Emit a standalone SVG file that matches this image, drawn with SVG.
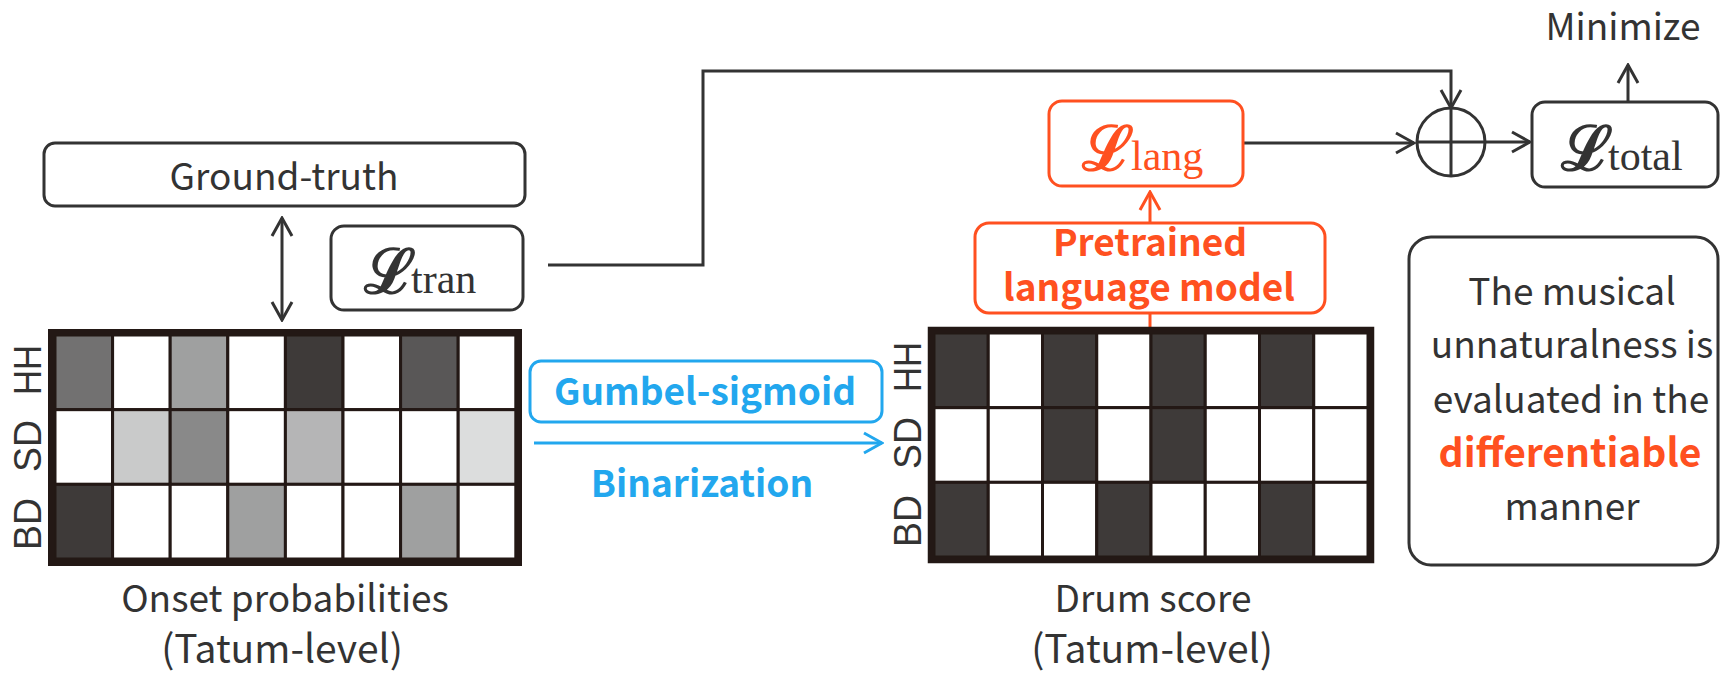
<svg xmlns="http://www.w3.org/2000/svg" width="1721" height="673" viewBox="0 0 1721 673">
  <style>
    .box { fill: #fff; stroke: #333; stroke-width: 3; }
    .obox { fill: #fff; stroke: #ff5020; stroke-width: 3; }
    .bbox { fill: #fff; stroke: #22a7ee; stroke-width: 3; }
    .txt { font-family: "Noto Sans CJK JP", "Noto Sans", sans-serif; font-size: 37px; fill: #333; text-anchor: middle; }
    .cap2 { font-size: 39px; }
    .lbl { font-family: "Liberation Sans", Arial, sans-serif; font-size: 38px; fill: #333; text-anchor: middle; }
    .bold-o { font-family: "Noto Sans CJK JP", "Noto Sans", sans-serif; font-weight: bold; font-size: 37px; fill: #ff5020; text-anchor: middle; }
    .bold-b { font-family: "Noto Sans CJK JP", "Noto Sans", sans-serif; font-weight: bold; font-size: 37px; fill: #22a7ee; text-anchor: middle; }
    .scr { font-family: "DejaVu Serif", serif; font-size: 62px; font-weight: bold; }
    .sub { font-family: "Liberation Serif", serif; font-size: 42px; }
    .cell { stroke: #231815; stroke-width: 3; }
    .frame { fill: none; stroke: #231815; stroke-width: 6.5; }
    .wire { fill: none; stroke: #333; stroke-width: 3; }
  </style>
  <defs>
    <marker id="ah" viewBox="-20 -12 22 24" refX="0" refY="0" markerWidth="22" markerHeight="24" markerUnits="userSpaceOnUse" orient="auto-start-reverse">
      <path d="M-18,-10 L0,0 L-18,10" fill="none" stroke="#333" stroke-width="3"/>
    </marker>
    <marker id="ah-o" viewBox="-20 -12 22 24" refX="0" refY="0" markerWidth="22" markerHeight="24" markerUnits="userSpaceOnUse" orient="auto">
      <path d="M-18,-10 L0,0 L-18,10" fill="none" stroke="#ff5020" stroke-width="3"/>
    </marker>
    <marker id="ah-b" viewBox="-20 -12 22 24" refX="0" refY="0" markerWidth="22" markerHeight="24" markerUnits="userSpaceOnUse" orient="auto">
      <path d="M-18,-10 L0,0 L-18,10" fill="none" stroke="#22a7ee" stroke-width="3"/>
    </marker>
  </defs>

  <rect width="1721" height="673" fill="#fff"/>

  <!-- connectors -->
  <g id="connectors">
    <path class="wire" d="M282,218 V320" marker-start="url(#ah)" marker-end="url(#ah)"/>
    <path class="wire" d="M548,265 H703 V71 H1451 V108" marker-end="url(#ah)"/>
    <path class="wire" d="M1243,143 H1414" marker-end="url(#ah)"/>
    <path class="wire" d="M1485,142 H1530" marker-end="url(#ah)"/>
    <path class="wire" d="M1628,102 V65" marker-end="url(#ah)"/>
    <path d="M1150,223 V192" fill="none" stroke="#ff5020" stroke-width="3" marker-end="url(#ah-o)"/>
    <path d="M1150,313 V328" fill="none" stroke="#ff5020" stroke-width="3"/>
    <path d="M534,443 H882" fill="none" stroke="#22a7ee" stroke-width="3" marker-end="url(#ah-b)"/>
  </g>

  <!-- ground truth -->
  <g id="ground-truth">
    <rect class="box" x="44" y="143" width="481" height="63" rx="11"/>
    <text class="txt" x="284" y="190">Ground-truth</text>
  </g>

  <!-- transcription loss -->
  <g id="loss-tran">
    <rect class="box" x="331" y="226" width="192" height="84" rx="13"/>
    <text fill="#333"><tspan class="scr" x="364" y="293">ℒ</tspan><tspan class="sub" x="411" y="293">tran</tspan></text>
  </g>

  <!-- onset probability matrix -->
  <g id="onset-probabilities">
    <g class="cell">
      <rect x="55" y="335" width="57.6" height="74.67" fill="#727171"/>
      <rect x="112.6" y="335" width="57.6" height="74.67" fill="#fff"/>
      <rect x="170.2" y="335" width="57.6" height="74.67" fill="#9fa0a0"/>
      <rect x="227.8" y="335" width="57.6" height="74.67" fill="#fff"/>
      <rect x="285.4" y="335" width="57.6" height="74.67" fill="#3e3a39"/>
      <rect x="343" y="335" width="57.6" height="74.67" fill="#fff"/>
      <rect x="400.6" y="335" width="57.6" height="74.67" fill="#595757"/>
      <rect x="458.2" y="335" width="57.6" height="74.67" fill="#fff"/>

      <rect x="55" y="409.67" width="57.6" height="74.67" fill="#fff"/>
      <rect x="112.6" y="409.67" width="57.6" height="74.67" fill="#c9caca"/>
      <rect x="170.2" y="409.67" width="57.6" height="74.67" fill="#898989"/>
      <rect x="227.8" y="409.67" width="57.6" height="74.67" fill="#fff"/>
      <rect x="285.4" y="409.67" width="57.6" height="74.67" fill="#b5b5b6"/>
      <rect x="343" y="409.67" width="57.6" height="74.67" fill="#fff"/>
      <rect x="400.6" y="409.67" width="57.6" height="74.67" fill="#fff"/>
      <rect x="458.2" y="409.67" width="57.6" height="74.67" fill="#dcdddd"/>

      <rect x="55" y="484.33" width="57.6" height="74.67" fill="#3e3a39"/>
      <rect x="112.6" y="484.33" width="57.6" height="74.67" fill="#fff"/>
      <rect x="170.2" y="484.33" width="57.6" height="74.67" fill="#fff"/>
      <rect x="227.8" y="484.33" width="57.6" height="74.67" fill="#9fa0a0"/>
      <rect x="285.4" y="484.33" width="57.6" height="74.67" fill="#fff"/>
      <rect x="343" y="484.33" width="57.6" height="74.67" fill="#fff"/>
      <rect x="400.6" y="484.33" width="57.6" height="74.67" fill="#9fa0a0"/>
      <rect x="458.2" y="484.33" width="57.6" height="74.67" fill="#fff"/>
    </g>
    <rect class="frame" x="51.25" y="332.25" width="467.5" height="230.5"/>
    <text class="lbl" transform="translate(41,370) rotate(-90)" textLength="50" lengthAdjust="spacingAndGlyphs">HH</text>
    <text class="lbl" transform="translate(41,446) rotate(-90)" textLength="52" lengthAdjust="spacingAndGlyphs">SD</text>
    <text class="lbl" transform="translate(41,524) rotate(-90)" textLength="52" lengthAdjust="spacingAndGlyphs">BD</text>
    <text class="txt" x="285" y="612">Onset probabilities</text>
    <text class="txt cap2" x="282" y="663">(Tatum-level)</text>
  </g>

  <!-- binarization step -->
  <g id="gumbel-sigmoid">
    <rect class="bbox" x="530" y="361" width="352" height="61" rx="11"/>
    <text class="bold-b" x="705" y="405">Gumbel-sigmoid</text>
    <text class="bold-b" x="702" y="497">Binarization</text>
  </g>

  <!-- binarized drum score -->
  <g id="drum-score">
    <g class="cell">
      <rect x="934" y="333" width="54.25" height="74.67" fill="#3e3a39"/>
      <rect x="988.25" y="333" width="54.25" height="74.67" fill="#fff"/>
      <rect x="1042.5" y="333" width="54.25" height="74.67" fill="#3e3a39"/>
      <rect x="1096.75" y="333" width="54.25" height="74.67" fill="#fff"/>
      <rect x="1151" y="333" width="54.25" height="74.67" fill="#3e3a39"/>
      <rect x="1205.25" y="333" width="54.25" height="74.67" fill="#fff"/>
      <rect x="1259.5" y="333" width="54.25" height="74.67" fill="#3e3a39"/>
      <rect x="1313.75" y="333" width="54.25" height="74.67" fill="#fff"/>

      <rect x="934" y="407.67" width="54.25" height="74.67" fill="#fff"/>
      <rect x="988.25" y="407.67" width="54.25" height="74.67" fill="#fff"/>
      <rect x="1042.5" y="407.67" width="54.25" height="74.67" fill="#3e3a39"/>
      <rect x="1096.75" y="407.67" width="54.25" height="74.67" fill="#fff"/>
      <rect x="1151" y="407.67" width="54.25" height="74.67" fill="#3e3a39"/>
      <rect x="1205.25" y="407.67" width="54.25" height="74.67" fill="#fff"/>
      <rect x="1259.5" y="407.67" width="54.25" height="74.67" fill="#fff"/>
      <rect x="1313.75" y="407.67" width="54.25" height="74.67" fill="#fff"/>

      <rect x="934" y="482.33" width="54.25" height="74.67" fill="#3e3a39"/>
      <rect x="988.25" y="482.33" width="54.25" height="74.67" fill="#fff"/>
      <rect x="1042.5" y="482.33" width="54.25" height="74.67" fill="#fff"/>
      <rect x="1096.75" y="482.33" width="54.25" height="74.67" fill="#3e3a39"/>
      <rect x="1151" y="482.33" width="54.25" height="74.67" fill="#fff"/>
      <rect x="1205.25" y="482.33" width="54.25" height="74.67" fill="#fff"/>
      <rect x="1259.5" y="482.33" width="54.25" height="74.67" fill="#3e3a39"/>
      <rect x="1313.75" y="482.33" width="54.25" height="74.67" fill="#fff"/>
    </g>
    <rect class="frame" x="931" y="330" width="440" height="230"/>
    <text class="lbl" transform="translate(921,367) rotate(-90)" textLength="50" lengthAdjust="spacingAndGlyphs">HH</text>
    <text class="lbl" transform="translate(921,443) rotate(-90)" textLength="52" lengthAdjust="spacingAndGlyphs">SD</text>
    <text class="lbl" transform="translate(921,521) rotate(-90)" textLength="52" lengthAdjust="spacingAndGlyphs">BD</text>
    <text class="txt" x="1153" y="612">Drum score</text>
    <text class="txt cap2" x="1152" y="663">(Tatum-level)</text>
  </g>

  <!-- language model -->
  <g id="language-model">
    <rect class="obox" x="975" y="223" width="350" height="90" rx="14"/>
    <text class="bold-o" x="1150" y="256">Pretrained</text>
    <text class="bold-o" x="1149" y="301">language model</text>
  </g>

  <!-- language model loss -->
  <g id="loss-lang">
    <rect class="obox" x="1049" y="101" width="194" height="85" rx="13"/>
    <text fill="#ff5020"><tspan class="scr" x="1082" y="170">ℒ</tspan><tspan class="sub" x="1131" y="170">lang</tspan></text>
  </g>

  <!-- summation -->
  <g id="sum">
    <circle cx="1451" cy="142" r="34" fill="none" stroke="#333" stroke-width="3"/>
    <path class="wire" d="M1451,108 V176 M1417,142 H1485"/>
  </g>

  <!-- total loss -->
  <g id="loss-total">
    <rect class="box" x="1532" y="102" width="186" height="85" rx="13"/>
    <text fill="#333"><tspan class="scr" x="1561" y="170">ℒ</tspan><tspan class="sub" x="1608" y="170">total</tspan></text>
  </g>

  <g id="minimize">
    <text class="txt" x="1623" y="40">Minimize</text>
  </g>

  <!-- note -->
  <g id="note">
    <rect class="box" x="1409" y="237" width="309" height="328" rx="22"/>
    <text class="txt" x="1572" y="305">The musical</text>
    <text class="txt" x="1572" y="358">unnaturalness is</text>
    <text class="txt" x="1571" y="413">evaluated in the</text>
    <text class="bold-o" x="1570" y="467" style="font-size:39px">differentiable</text>
    <text class="txt" x="1572" y="520">manner</text>
  </g>
</svg>
